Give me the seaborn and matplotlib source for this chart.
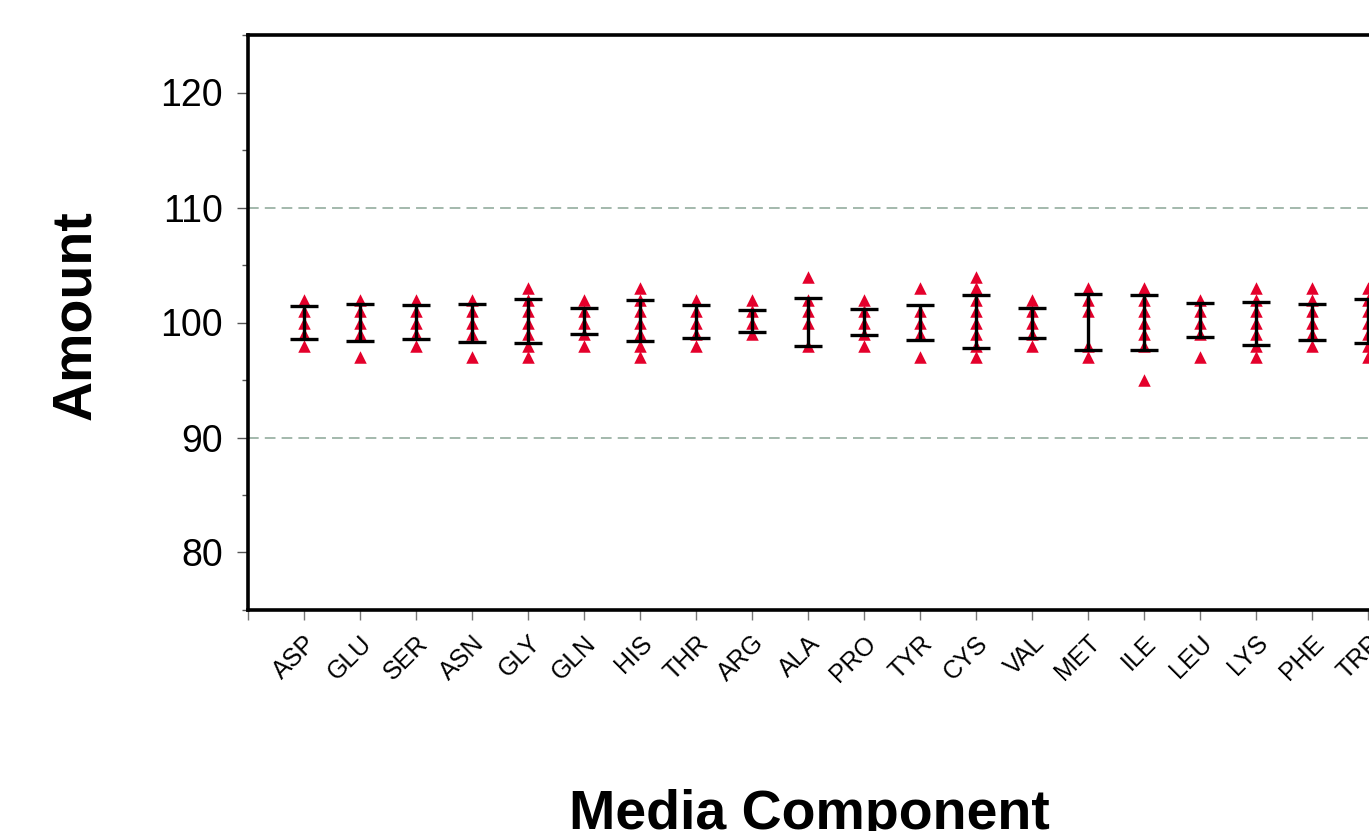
import pandas as pd
import matplotlib
matplotlib.use('Agg')
import matplotlib.pyplot as plt
import seaborn as sns
from matplotlib.ticker import MultipleLocator

components = ['ASP', 'GLU', 'SER', 'ASN', 'GLY', 'GLN', 'HIS', 'THR', 'ARG', 'ALA',
              'PRO', 'TYR', 'CYS', 'VAL', 'MET', 'ILE', 'LEU', 'LYS', 'PHE', 'TRP']

# individual results per component
amounts = [
    [98, 99, 100, 101, 102],
    [97, 99, 100, 101, 102],
    [98, 99, 100, 101, 102],
    [97, 99, 100, 101, 102],
    [97, 98, 99, 100, 101, 102, 103],
    [98, 99, 100, 101, 102],
    [97, 98, 99, 100, 101, 102, 103],
    [98, 99, 100, 101, 102],
    [99, 100, 101, 102],
    [98, 100, 101, 102, 104],
    [98, 99, 100, 101, 102],
    [97, 99, 100, 101, 103],
    [97, 98, 99, 100, 101, 102, 103, 104],
    [98, 99, 100, 101, 102],
    [97, 98, 101, 102, 103],
    [95, 98, 99, 100, 101, 102, 103],
    [97, 99, 100, 101, 102],
    [97, 98, 99, 100, 101, 102, 103],
    [98, 99, 100, 101, 102, 103],
    [97, 98, 99, 100, 101, 102, 103],
]

# error bar ends
bar_low = [98.58, 98.43, 98.58, 98.29, 98.23, 99.04, 98.38, 98.61, 99.16, 97.94,
           98.87, 98.52, 97.77, 98.64, 97.65, 97.65, 98.72, 98.03, 98.46, 98.23]
bar_high = [101.42, 101.60, 101.48, 101.60, 102.06, 101.25, 101.94, 101.48, 101.13, 102.09,
            101.19, 101.56, 102.35, 101.22, 102.49, 102.43, 101.71, 101.80, 101.62, 102.06]

spec_limits = [90, 110]

rows = []
for comp, vals in zip(components, amounts):
    for v in vals:
        rows.append({'Media Component': comp, 'Amount': v})
df = pd.DataFrame(rows)

sns.set_style('white')
plt.rcParams['font.family'] = ['Liberation Sans', 'DejaVu Sans']
plt.rcParams['text.color'] = 'black'
plt.rcParams['axes.labelcolor'] = 'black'

fig = plt.figure(figsize=(13.69, 8.31), dpi=100)
# axes runs past the right edge, as in the cropped original
ax = fig.add_axes([248 / 1369, 221 / 831, 1176 / 1369, 575 / 831])

sns.stripplot(data=df, x='Media Component', y='Amount', order=components,
              jitter=False, marker='^', size=9, color='#E4002B', linewidth=0,
              ax=ax, zorder=2)

mid = [(lo + hi) / 2 for lo, hi in zip(bar_low, bar_high)]
half = [(hi - lo) / 2 for lo, hi in zip(bar_low, bar_high)]
ax.errorbar(range(len(components)), mid, yerr=half, fmt='none', ecolor='black',
            elinewidth=2.4, capsize=10, capthick=2.4, zorder=3)

for lim in spec_limits:
    ax.axhline(lim, color='#8aa596', linestyle=(0, (7, 4)), linewidth=1.1, zorder=1)

ax.set_ylim(75, 125)
ax.set_xlim(-1, 20)
ax.yaxis.set_major_locator(MultipleLocator(10))
ax.yaxis.set_minor_locator(MultipleLocator(5))
ax.set_xticks(range(-1, len(components)))
ax.set_xticklabels([''] + components, rotation=45, ha='right', rotation_mode='anchor',
                   fontsize=18)
ax.tick_params(axis='y', which='major', labelsize=27, length=8, width=1, color='#555555',
               labelcolor='black', left=True, pad=10)
ax.tick_params(axis='y', which='minor', length=4, width=1, color='#555555', left=True)
ax.tick_params(axis='x', length=7, width=1, color='#777777', labelcolor='black',
               bottom=True, pad=8)

for side in ['left', 'bottom', 'top']:
    ax.spines[side].set_visible(True)
    ax.spines[side].set_linewidth(2.6)
    ax.spines[side].set_color('black')
ax.spines['right'].set_visible(False)

ax.set_xlabel('Media Component', fontsize=40, fontweight='bold')
ax.set_ylabel('Amount', fontsize=40, fontweight='bold')
ax.xaxis.set_label_coords(0.477, -0.312)
ax.yaxis.set_label_coords(-0.124, 0.513)

fig.savefig('out.png', dpi=100)
